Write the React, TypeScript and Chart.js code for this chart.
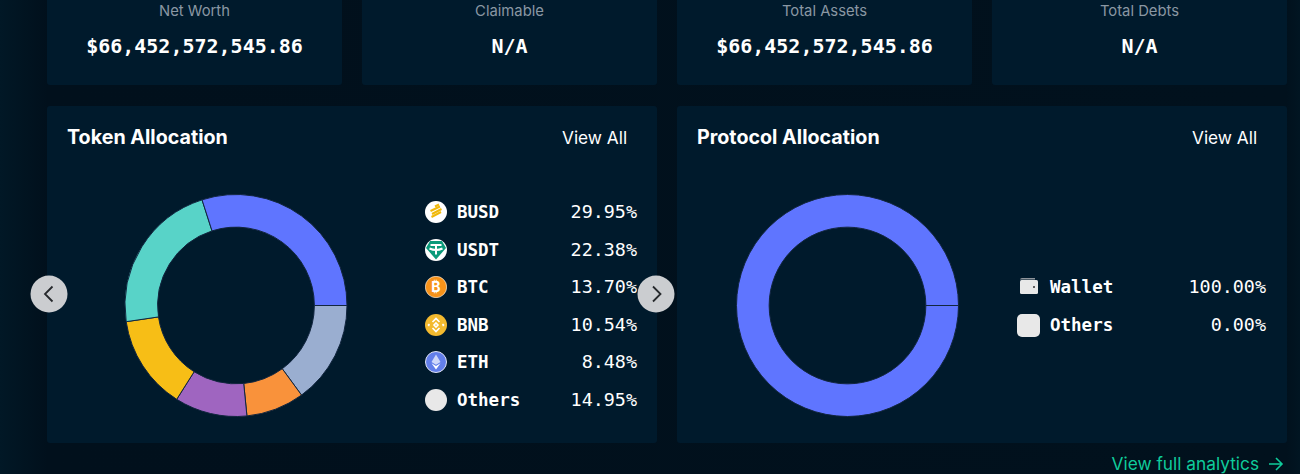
import React, { useEffect, useRef } from "react";
import { Chart, registerables } from "chart.js";

Chart.register(...registerables);

const SANS = "Inter, 'Noto Sans', sans-serif";
const MONO = "'DejaVu Sans Mono', 'Liberation Mono', monospace";

const summaryLabels = ["Net Worth", "Claimable", "Total Assets", "Total Debts"];
const summaryValues = ["$66,452,572,545.86", "N/A", "$66,452,572,545.86", "N/A"];

const tokenNames = ["BUSD", "USDT", "BTC", "BNB", "ETH", "Others"];
const tokenShares = [29.95, 22.38, 13.7, 10.54, 8.48, 14.95];
const tokenColors = ["#5F75FF", "#58D3C8", "#F7BE16", "#9F65C0", "#F9923B", "#9AAED0"];

const protocolNames = ["Wallet", "Others"];
const protocolShares = [100, 0];
const protocolColors = ["#5F75FF", "#9AAED0"];

const pct = (v: number) => v.toFixed(2) + "%";

function Donut({ values, colors, left, top, padLeft }: { values: number[]; colors: string[]; left: number; top: number; padLeft: number }) {
  const ref = useRef<HTMLCanvasElement | null>(null);
  useEffect(() => {
    if (!ref.current) return;
    const chart = new Chart(ref.current, {
      type: "doughnut",
      data: {
        labels: values.map((_, i) => String(i)),
        datasets: [{
          data: [...values].reverse(),
          backgroundColor: [...colors].reverse(),
          borderColor: "#12263f",
          borderWidth: 1,
        }],
      },
      options: {
        responsive: false,
        animation: false,
        rotation: 90,
        cutout: "70.6%",
        layout: { padding: { bottom: 1, left: padLeft } },
        plugins: { legend: { display: false }, tooltip: { enabled: false } },
      },
    });
    return () => chart.destroy();
  }, []);
  return <canvas ref={ref} width={224} height={224} style={{ position: "absolute", left, top, width: 224, height: 224 }} />;
}

function Icon({ name }: { name: string }) {
  const s = { position: "absolute" as const, left: 0, top: 0 };
  if (name === "BUSD") return (
    <svg width="22" height="22" style={s}><circle cx="11" cy="11" r="11" fill="#fff" /><g stroke="#F0B90B" strokeWidth="2"><path d="M10 5.5 L14 3.5" /><path d="M5.5 10 L15 5.5" /><path d="M7 13 L16.5 8" /><path d="M6.5 16 L16 11" /></g></svg>
  );
  if (name === "USDT") return (
    <svg width="22" height="22" style={s}><circle cx="11" cy="11" r="11" fill="#fff" /><path d="M11 20.5 L1 9 L5 2 H17 L21 9 Z" fill="#0A9A7A" /><path d="M5.5 6 H16.5 M11 6 V15.5 M4.5 9.5 Q11 12.5 17.5 9.5" stroke="#fff" strokeWidth="2" fill="none" /></svg>
  );
  if (name === "BTC") return (
    <svg width="22" height="22" style={s}><circle cx="11" cy="11" r="10.7" fill="#F7931A" stroke="#fff" strokeWidth="0.6" /><text x="11" y="16" fontSize="14" fontWeight="700" fontFamily={SANS} textAnchor="middle" fill="#fff">₿</text></svg>
  );
  if (name === "BNB") return (
    <svg width="22" height="22" style={s}><circle cx="11" cy="11" r="11" fill="#F3BA2F" /><g stroke="#fff" strokeWidth="1.6" fill="none"><path d="M7.5 8 L11 4.5 L14.5 8" /><path d="M7.5 14 L11 17.5 L14.5 14" /><path d="M11 9 L13 11 L11 13 L9 11 Z" /><path d="M4.5 10 L3.5 11 L4.5 12" /><path d="M17.5 10 L18.5 11 L17.5 12" /></g></svg>
  );
  if (name === "ETH") return (
    <svg width="22" height="22" style={s}><circle cx="11" cy="11" r="10.5" fill="#627EEA" stroke="#dfe3f5" strokeWidth="1" /><path d="M11 3.5 L15.5 11 L11 13.8 L6.5 11 Z" fill="#cfd8fa" /><path d="M11 15 L15.5 12.2 L11 18.5 L6.5 12.2 Z" fill="#fff" /></svg>
  );
  if (name === "Wallet") return (
    <svg width="22" height="22" style={s}><path d="M2 3.5 Q2 2 4 2 H17 V3.5 Z" fill="#8f959c" /><rect x="2" y="4" width="18" height="14" rx="1.5" fill="#E8E8E8" /><circle cx="16" cy="11" r="1" fill="#333" /></svg>
  );
  if (name === "Square") return (
    <div style={{ position: "absolute", left: 0, top: 0, width: 23, height: 23, background: "#E8E8E8", borderRadius: 5 }} />
  );
  return <div style={{ position: "absolute", left: 0, top: 0, width: 22, height: 22, background: "#E8E8E8", borderRadius: "50%" }} />;
}

function LegendRow({ name, value, iconName, iconX, nameX, right, y }: { name: string; value: number; iconName: string; iconX: number; nameX: number; right: number; y: number }) {
  return (
    <>
      <div style={{ position: "absolute", left: iconX, top: y - 11, width: 22, height: 22 }}><Icon name={iconName} /></div>
      <div style={{ position: "absolute", left: nameX, top: y - 12, height: 24, font: `700 17.5px/24px ${MONO}`, color: "#fff" }}>{name}</div>
      <div style={{ position: "absolute", right: 1300 - right, top: y - 12, height: 24, font: `400 18.4px/24px ${MONO}`, color: "#fff", whiteSpace: "nowrap" }}>{pct(value)}</div>
    </>
  );
}

function Arrow({ left, dir }: { left: number; dir: "l" | "r" }) {
  return (
    <svg width="38" height="38" style={{ position: "absolute", left, top: 275 }}>
      <circle cx="19" cy="19" r="18.5" fill="#CBCDD0" />
      <path d={dir === "l" ? "M22.5 11.5 L15 19 L22.5 26.5" : "M16 11.5 L23.5 19 L16 26.5"} stroke="#26292c" strokeWidth="1.8" fill="none" />
    </svg>
  );
}

const card: React.CSSProperties = { position: "absolute", background: "#001A2C", borderRadius: 3 };
const tokenRowY = [212, 250, 287, 325, 362, 400];
const cardLefts = [47, 362, 677, 992];
const cardWidths = [295, 295, 295, 295];
const pageBg = "linear-gradient(to right, #011826 0px, #01101C 47px, #01111D 1287px, #011522 1300px)";

export default function App() {
  useEffect(() => {
    document.body.style.margin = "0";
    document.body.style.background = "#01111D";
  }, []);
  return (
    <div style={{ position: "relative", width: 1300, height: 474, overflow: "hidden", background: pageBg, fontFamily: SANS }}>
      {summaryLabels.map((label, i) => (
        <div key={label} style={{ ...card, left: cardLefts[i], top: -5, width: cardWidths[i], height: 90, textAlign: "center" }}>
          <div style={{ position: "absolute", left: 0, right: 0, top: 6, font: `400 14.8px/20px ${SANS}`, color: "#8A97A3" }}>{label}</div>
          <div style={{ position: "absolute", left: 0, right: 0, top: 38, font: `700 20px/26px ${MONO}`, color: "#fff" }}>{summaryValues[i]}</div>
        </div>
      ))}

      <div style={{ ...card, left: 47, top: 106, width: 610, height: 337 }} />
      <div style={{ ...card, left: 677, top: 106, width: 610, height: 337 }} />

      <div style={{ position: "absolute", left: 67, top: 124, font: `700 19.7px/26px ${SANS}`, color: "#fff" }}>Token Allocation</div>
      <div style={{ position: "absolute", left: 562, top: 126, font: `400 17.3px/24px ${SANS}`, color: "#fff" }}>View All</div>
      <div style={{ position: "absolute", left: 697, top: 124, font: `700 19.7px/26px ${SANS}`, color: "#fff" }}>Protocol Allocation</div>
      <div style={{ position: "absolute", left: 1192, top: 126, font: `400 17.3px/24px ${SANS}`, color: "#fff" }}>View All</div>

      <Donut values={tokenShares} colors={tokenColors} left={124} top={194} padLeft={0} />
      <Donut values={protocolShares} colors={protocolColors} left={735} top={194} padLeft={1} />

      {tokenNames.map((n, i) => (
        <LegendRow key={n} name={n} value={tokenShares[i]} iconName={n} iconX={425} nameX={457} right={637} y={tokenRowY[i]} />
      ))}
      <LegendRow name={protocolNames[0]} value={protocolShares[0]} iconName="Wallet" iconX={1018} nameX={1050} right={1266} y={287} />
      <LegendRow name={protocolNames[1]} value={protocolShares[1]} iconName="Square" iconX={1017} nameX={1050} right={1266} y={325} />

      <Arrow left={30} dir="l" />
      <Arrow left={637} dir="r" />

      <div style={{ position: "absolute", right: 41, top: 452, font: `400 17.3px/24px ${SANS}`, color: "#0FCB9B", whiteSpace: "nowrap" }}>View full analytics</div>
      <svg width="16" height="16" style={{ position: "absolute", left: 1268, top: 456 }}>
        <path d="M1 8 H14 M8 2 L14 8 L8 14" stroke="#0FCB9B" strokeWidth="1.6" fill="none" />
      </svg>
    </div>
  );
}
